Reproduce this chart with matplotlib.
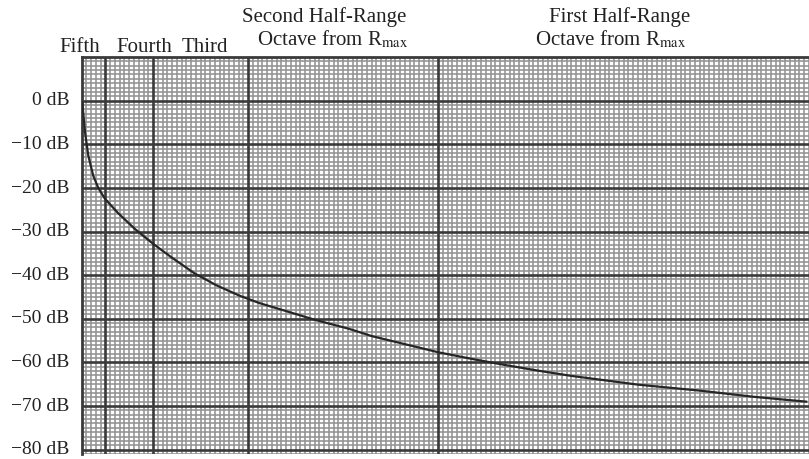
import numpy as np
import matplotlib.pyplot as plt
from matplotlib.transforms import ScaledTranslation

plt.rcParams['font.family'] = ['Liberation Serif', 'DejaVu Serif']
plt.rcParams['mathtext.fontset'] = 'stix'

# range as a fraction of R_max, and two-way loss in dB
rng = [0.0320, 0.0356, 0.0399, 0.0464, 0.0530, 0.0618, 0.0792, 0.1011,
       0.1250, 0.1491, 0.1796, 0.2080, 0.2386, 0.2648, 0.2953, 0.3390,
       0.3826, 0.4131, 0.5005, 0.5441, 0.5878, 0.6315, 0.6750, 0.7188,
       0.7624, 0.8453, 0.9152, 0.9837]
loss = [-0.5, -7.2, -12.6, -17.2, -20.0, -22.5, -25.8, -29.4,
        -32.8, -35.9, -39.6, -42.3, -44.7, -46.4, -48.0, -50.3,
        -52.3, -54.0, -57.7, -59.2, -60.6, -61.9, -63.1, -64.1,
        -65.1, -66.5, -67.9, -69.0]

octave_edges = [1/16, 1/8, 1/4, 1/2]
db_levels = [0, -10, -20, -30, -40, -50, -60, -70, -80]
db_labels = ['0 dB', '\u221210 dB', '\u221220 dB', '\u221230 dB', '\u221240 dB',
             '\u221250 dB', '\u221260 dB', '\u221270 dB', '\u221280 dB']

fig = plt.figure(figsize=(8.09, 4.6), dpi=100)
ax = fig.add_axes([0.101, 0.0109, 0.899, 0.863])
ax.set_xlim(1/32, 0.984)
ax.set_ylim(-81, 10)

# fine graph-paper grid
ax.set_xticks(np.arange(1/32, 0.99, 1/160), minor=True)
ax.set_yticks(np.arange(-81, 10.5, 1), minor=True)
ax.set_xticks(octave_edges)
ax.set_yticks(db_levels)
ax.set_yticklabels(db_labels)
ax.set_xticklabels([])
ax.grid(which='minor', color='#929292', linewidth=1.15)
ax.set_axisbelow(True)
ax.tick_params(which='both', length=0)
ax.tick_params(axis='y', labelsize=14, pad=9, colors='#222222')
nudge = ScaledTranslation(0, 2 / 72, fig.dpi_scale_trans)
for lab in ax.get_yticklabels():
    lab.set_transform(lab.get_transform() + nudge)

# heavy lines at octave edges and every 10 dB
for x in octave_edges:
    ax.axvline(x, color='#3a3a3a', linewidth=1.9, zorder=2)
for y in db_levels:
    ax.axhline(y, color='#3a3a3a', linewidth=1.9, zorder=2)

for side in ['right', 'bottom']:
    ax.spines[side].set_visible(False)
for side in ['left', 'top']:
    ax.spines[side].set_color('#3a3a3a')
    ax.spines[side].set_linewidth(2.0)

ax.plot(rng, loss, color='#262626', linewidth=1.6, zorder=3)

# octave headers
tr = ax.get_xaxis_transform()
def head(x, y_px, s):
    ax.text(x, (455 - y_px) / (455 - 58), s, transform=tr, ha='center',
            va='baseline', fontsize=15, color='#222222', clip_on=False)

head(0.029, 51.5, 'Fifth')
head(0.113, 51.5, 'Fourth')
head(0.193, 51.5, 'Third')
head(0.350, 21.5, 'Second Half-Range')
head(0.361, 45.0, r'Octave from R$_{\rm max}$')
head(0.738, 21.5, 'First Half-Range')
head(0.726, 45.0, r'Octave from R$_{\rm max}$')

fig.savefig('out.png', dpi=100)
